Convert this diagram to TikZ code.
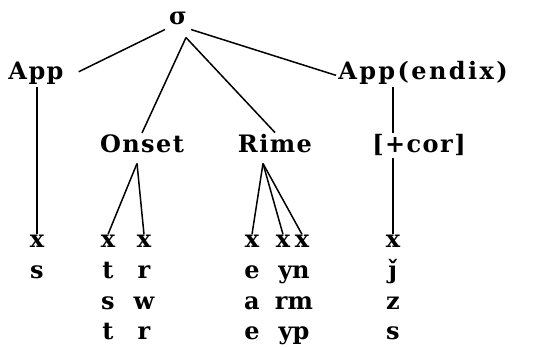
\documentclass[tikz,border=0pt]{standalone}
\usepackage{fontspec}
\setmainfont{DejaVu Serif}
\usetikzlibrary{calc}

\begin{document}
\begin{tikzpicture}[x=1pt, y=-1pt,
    lbl/.style={font=\bfseries\fontsize{24}{28}\selectfont\addfontfeature{LetterSpace=6}, inner sep=2pt, anchor=base},
    seg/.style={font=\bfseries\fontsize{24}{28}\selectfont, inner sep=1pt, anchor=base},
    branch/.style={line width=1.5pt}
]
\useasboundingbox (0,0) rectangle (542,347);

% constituents
\node[lbl, inner sep=4pt] (sig) at (178,25) {σ};
\node[lbl] (app) at (36,80) {App};
\node[lbl, font=\bfseries\fontsize{24}{28}\selectfont\addfontfeature{LetterSpace=10}] (appx) at (423,80) {App(endix)};
\node[lbl] (onset) at (142,153) {Onset};
\node[lbl] (rime) at (275,153) {Rime};
\node[lbl] (cor) at (419,153) {[+cor]};

% timing slots
\node[seg] (x1) at (37,248) {x};
\node[seg] (ox1) at (108,248) {x};
\node[seg] (ox2) at (144,248) {x};
\node[seg] (rx1) at (252,248) {x};
\node[seg] (rx2) at (283,248) {x};
\node[seg] (rx3) at (302,248) {x};
\node[seg] (ax) at (393,248) {x};

% segments
\node[seg] (as1) at (37,279) {s};
\foreach \cx/\n/\a/\b/\c in {108/ot/t/s/t, 144/or/r/w/r, 252/re/e/a/e, 294/ry/yn/rm/yp, 393/aj/ǰ/z/s} {
    \node[seg] (\n1) at (\cx,279) {\a};
    \node[seg] (\n2) at (\cx,310) {\b};
    \node[seg] (\n3) at (\cx,340) {\c};
}

\coordinate (sigfoot) at ($(sig.south)+(8,8)$);
\coordinate (onfoot) at ($(onset.south)+(-5,8)$);
\coordinate (rifoot) at ($(rime.south)+(-12,8)$);

\draw[branch] (sig.south west) -- ($(app.east)+(13,-2)$);
\draw[branch] (sig.south east) -- ($(appx.west)+(0,2)$);
\draw[branch] (sigfoot) -- (onset.north);
\draw[branch] (sigfoot) -- (rime.north);

\draw[branch] (app.south -| x1) -- (x1.north);
\draw[branch] (appx.south -| ax) -- (cor.north -| ax);
\draw[branch] (cor.south -| ax) -- (ax.north);

\draw[branch] (onfoot) -- (ox1.north);
\draw[branch] (onfoot) -- (ox2.north);
\draw[branch] (rifoot) -- (rx1.north);
\draw[branch] (rifoot) -- (rx2.north);
\draw[branch] (rifoot) -- (rx3.north);

\end{tikzpicture}
\end{document}
